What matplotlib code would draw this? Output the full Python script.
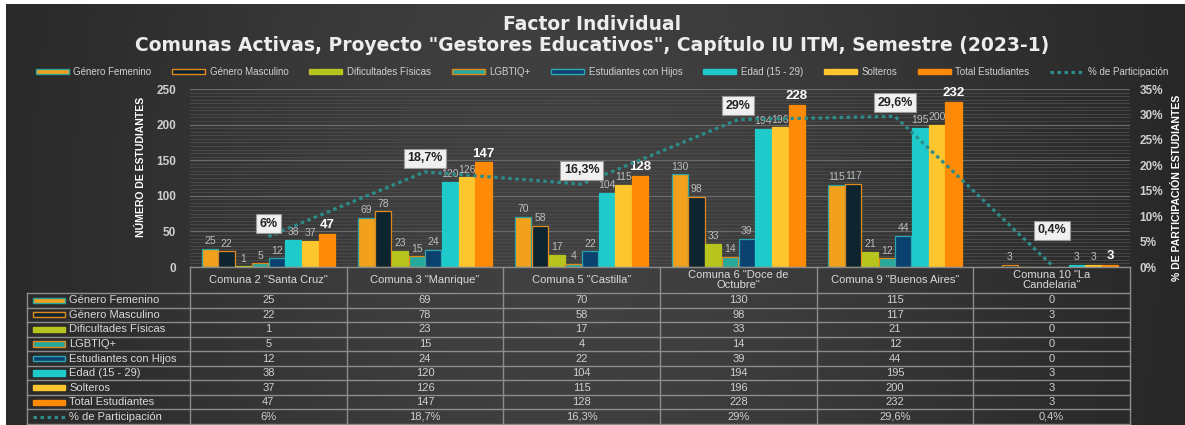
import numpy as np
import matplotlib
matplotlib.use("Agg")
import matplotlib.pyplot as plt
from matplotlib.patches import Rectangle, Patch
from matplotlib.lines import Line2D
from matplotlib.ticker import MultipleLocator, FuncFormatter

# ---------------- data ----------------
categories = ['Comuna 2 "Santa Cruz"', 'Comuna 3 "Manrique"', 'Comuna 5 "Castilla"',
              'Comuna 6 "Doce de\nOctubre"', 'Comuna 9 "Buenos Aires"', 'Comuna 10 "La\nCandelaria"']
series_names = ["Género Femenino", "Género Masculino", "Dificultades Físicas", "LGBTIQ+",
                "Estudiantes con Hijos", "Edad (15 - 29)", "Solteros", "Total Estudiantes"]
genero_femenino = [25, 69, 70, 130, 115, 0]
genero_masculino = [22, 78, 58, 98, 117, 3]
dificultades_fisicas = [1, 23, 17, 33, 21, 0]
lgbtiq = [5, 15, 4, 14, 12, 0]
estudiantes_con_hijos = [12, 24, 22, 39, 44, 0]
edad_15_29 = [38, 120, 104, 194, 195, 3]
solteros = [37, 126, 115, 196, 200, 3]
total_estudiantes = [47, 147, 128, 228, 232, 3]
participacion_name = "% de Participación"
participacion_pct = [6, 18.7, 16.3, 29, 29.6, 0.4]
y_ticks = [0, 50, 100, 150, 200, 250]
y2_ticks = [0, 5, 10, 15, 20, 25, 30, 35]

series_values = [genero_femenino, genero_masculino, dificultades_fisicas, lgbtiq,
                 estudiantes_con_hijos, edad_15_29, solteros, total_estudiantes]

# ---------------- styles ----------------
face_colors = ["#F2A11C", "#0E2530", "#B7C41E", "#27A99B", "#0B416E", "#1FCACA", "#FDC52E", "#FF8A05"]
edge_colors = ["#2FA3A0", "#E08A1E", "#B7C41E", "#E08A1E", "#2AA6B0", "#1FCACA", "#FDC52E", "#FF8A05"]
line_color = "#2C8C8A"
pct_label_offsets = [9, 10, 10, 10, 10, 25]
FONT = ["Liberation Sans", "DejaVu Sans"]
NARROW = ["Liberation Sans Narrow", "Liberation Sans", "DejaVu Sans"]
plt.rcParams["font.family"] = FONT

W, H = 1185, 425
fig = plt.figure(figsize=(W / 100, H / 100), dpi=100)
fig.patch.set_facecolor("white")

# background gradient
bg = fig.add_axes([6 / W, 0, 1 - 6 / W, 1 - 4 / H], zorder=-10)
gx = np.linspace(0, 1, 600)
gy = np.linspace(0, 1, 220)
X, Y = np.meshgrid(gx, gy)
val = 0x20 + (0x41 - 0x20) * np.exp(-((X - 0.48) / 0.44) ** 2) * (0.85 + 0.15 * np.exp(-((Y - 0.5) / 0.6) ** 2))
val = val / 255.0
img = np.dstack([val, val, val])
bg.imshow(img, aspect="auto", extent=[0, 1, 0, 1], interpolation="bilinear")
bg.axis("off")

# main axes
L, R, T, B = 190, 1130, 89, 267
ax = fig.add_axes([L / W, 1 - B / H, (R - L) / W, (B - T) / H])
ax.set_facecolor("none")
n = len(categories)
x = np.arange(n)
bw = 0.1066
nser = len(series_values)

ax.set_xlim(-0.5, n - 0.5)
ax.set_ylim(0, 250)
ax.set_yticks(y_ticks)
ax.yaxis.set_minor_locator(MultipleLocator(5))
ax.grid(axis="y", which="major", color="#6a6a6a", lw=0.9, zorder=0)
ax.grid(axis="y", which="minor", color="#4c4c4c", lw=0.6, zorder=0)
ax.set_axisbelow(True)
ax.set_xticks([])
for s in ax.spines.values():
    s.set_visible(False)
ax.tick_params(axis="y", which="both", length=0, pad=10, labelcolor="#CFCFCF", labelsize=8.5)
for lab in ax.get_yticklabels():
    lab.set_fontweight("bold")

for j, vals in enumerate(series_values):
    pos = x - bw * nser / 2 + bw * (j + 0.5)
    bars = ax.bar(pos, vals, width=bw * 0.97, color=face_colors[j], edgecolor=edge_colors[j],
                  linewidth=0.9, zorder=3, label=series_names[j])
    labels = [str(v) if v != 0 else "" for v in vals]
    if j == nser - 1:
        ax.bar_label(bars, labels=labels, padding=2, color="white", fontsize=9.5, fontweight="bold")
    else:
        ax.bar_label(bars, labels=labels, padding=2, color="#BDBDBD", fontsize=7.5)

# secondary axis
ax2 = ax.twinx()
ax2.set_ylim(0, 0.35)
ax2.set_yticks([t / 100 for t in y2_ticks])
ax2.yaxis.set_major_formatter(FuncFormatter(lambda v, p: f"{round(v * 100)}%"))
for s in ax2.spines.values():
    s.set_visible(False)
ax2.tick_params(axis="y", length=0, pad=7, labelcolor="#CFCFCF", labelsize=8.5)
for lab in ax2.get_yticklabels():
    lab.set_fontweight("bold")
pct = np.array(participacion_pct) / 100
ax2.plot(x, pct, color=line_color, lw=2.3, linestyle=(0, (1.1, 1.1)), zorder=5)
for i, v in enumerate(participacion_pct):
    txt = f"{v:g}".replace(".", ",") + "%"
    ax2.annotate(txt, (x[i], pct[i]), xytext=(0, pct_label_offsets[i]), textcoords="offset points",
                 ha="center", va="center", fontsize=9, fontweight="bold", color="#222222",
                 bbox=dict(boxstyle="square,pad=0.28", fc="#F0F0F0", ec="#9a9a9a", lw=0.8), zorder=6)

# axis titles
fig.text(141 / W, 1 - 167 / H, "NÚMERO DE ESTUDIANTES", rotation=90, ha="center", va="center",
         fontsize=7.5, fontweight="bold", color="white", family=NARROW)
fig.text(1177 / W, 1 - 188 / H, "% DE PARTICIPACIÓN ESTUDIANTES", rotation=90, ha="center", va="center",
         fontsize=7.5, fontweight="bold", color="white", family=NARROW)

# title
fig.text(592 / W, 1 - 24 / H, "Factor Individual", ha="center", va="center", fontsize=13.5,
         fontweight="bold", color="#EDEDED", family=["DejaVu Sans"])
fig.text(592 / W, 1 - 45 / H, 'Comunas Activas, Proyecto "Gestores Educativos", Capítulo IU ITM, Semestre (2023-1)',
         ha="center", va="center", fontsize=13.5, fontweight="bold", color="#EDEDED", family=["DejaVu Sans"])

# legend
handles = [Patch(facecolor=face_colors[j], edgecolor=edge_colors[j], linewidth=1.0, label=series_names[j])
           for j in range(nser)]
handles.append(Line2D([0], [0], color=line_color, lw=2.3, linestyle=(0, (1.1, 1.1)), label=participacion_name))
leg = fig.legend(handles=handles, loc="center", bbox_to_anchor=(602 / W, 1 - 72 / H), ncol=9,
                 frameon=False, fontsize=7, handlelength=3.4, handleheight=0.55,
                 handletextpad=0.45, columnspacing=2.15, labelcolor="#D0D0D0")

# ---------------- data table ----------------
TT, TB = 267, 424
tab = fig.add_axes([L / W, 1 - TB / H, (R - L) / W, (TB - TT) / H])
tab.set_xlim(-0.5, n - 0.5)
tab.set_ylim(TB, TT)
tab.axis("off")
colw = (R - L) / n
def px2x(p):
    return -0.5 + (p - L) / colw
xl = px2x(27)
hdr_b = 293
row_h = (TB - hdr_b) / 9
lc = "#8C8C8C"
lk = dict(color=lc, lw=1.0, clip_on=False)
tab.plot([-0.5, n - 0.5], [TT, TT], **lk)
for k in range(n + 1):
    tab.plot([k - 0.5, k - 0.5], [TT, TB], **lk)
tab.plot([xl, xl], [hdr_b, TB], **lk)
for r in range(10):
    yy = hdr_b + r * row_h
    tab.plot([xl, n - 0.5], [yy, yy], **lk)
for i, c in enumerate(categories):
    tab.text(i, (TT + hdr_b) / 2, c, ha="center", va="center", fontsize=8, color="#DADADA",
             linespacing=1.05)

row_names = series_names + [participacion_name]
row_vals = [[str(v) for v in s] for s in series_values] + \
           [[f"{v:g}".replace(".", ",") + "%" for v in participacion_pct]]
for r, name in enumerate(row_names):
    yc = hdr_b + (r + 0.5) * row_h
    hx0 = px2x(33)
    hx1 = px2x(65)
    if r < nser:
        tab.add_patch(Rectangle((hx0, yc - 2.6), hx1 - hx0, 5.2, facecolor=face_colors[r],
                                edgecolor=edge_colors[r], lw=1.0, clip_on=False))
    else:
        tab.plot([hx0, hx1], [yc, yc], color=line_color, lw=2.3, linestyle=(0, (1.1, 1.1)), clip_on=False)
    tab.text(px2x(69), yc, name, ha="left", va="center", fontsize=8, color="#DADADA")
    for i, v in enumerate(row_vals[r]):
        tab.text(i, yc, v, ha="center", va="center", fontsize=8, color="#D0D0D0")

fig.savefig("out.png", dpi=100, facecolor=fig.get_facecolor())
